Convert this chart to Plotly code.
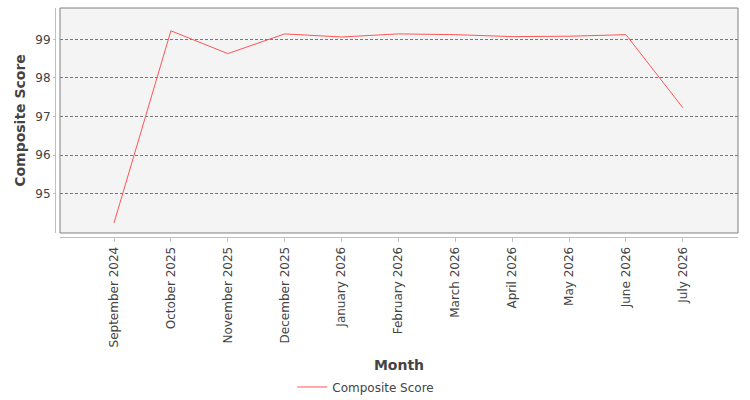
import plotly.graph_objects as go

months = ["September 2024", "October 2025", "November 2025", "December 2025",
          "January 2026", "February 2026", "March 2026", "April 2026",
          "May 2026", "June 2026", "July 2026"]
composite_score = [94.25, 99.22, 98.63, 99.14, 99.06, 99.14, 99.12, 99.07, 99.08, 99.12, 97.23]
y_ticks = [95, 96, 97, 98, 99]

FONT = "DejaVu Sans"

fig = go.Figure()
fig.add_trace(go.Scatter(
    x=months, y=composite_score, mode="lines", name="Composite Score",
    line=dict(color="#ff5555", width=1),
))

fig.update_layout(
    width=750, height=400,
    margin=dict(l=55, r=12, t=8, b=163, autoexpand=False),
    paper_bgcolor="white",
    plot_bgcolor="#f4f4f4",
    font=dict(family=FONT, size=12, color="#555555"),
    showlegend=True,
    legend=dict(orientation="h", x=0.455, xanchor="center", y=-0.655, yanchor="middle",
                font=dict(family=FONT, size=12, color="#444444")),
    xaxis=dict(
        type="category", domain=[0.0073, 1], anchor="free", position=0,
        range=[-0.95, 10.97], automargin=False,
        showgrid=False, zeroline=False,
        showline=True, linecolor="#c0c0c0", linewidth=1,
        ticks="outside", ticklen=4, tickcolor="#c0c0c0",
        tickangle=-90, tickfont=dict(family=FONT, size=12, color="#444444"),
        title=dict(text="<b>Month</b>", font=dict(family=FONT, size=14, color="#444444"), standoff=13),
    ),
    yaxis=dict(
        domain=[0.0175, 1], anchor="free", position=0,
        range=[93.99, 99.81], tickvals=y_ticks, automargin=False,
        showgrid=True, gridcolor="#777777", gridwidth=0.6, griddash="3px,2px",
        zeroline=False,
        showline=True, linecolor="#c0c0c0", linewidth=1,
        ticks="outside", ticklen=2, tickcolor="#c0c0c0",
        tickfont=dict(family=FONT, size=12, color="#444444"),
        title=dict(text="<b>Composite Score</b>", font=dict(family=FONT, size=14, color="#444444"), standoff=5),
    ),
    shapes=[dict(type="rect", xref="x domain", yref="y domain", x0=0, x1=1, y0=0, y1=1,
                 line=dict(color="#808080", width=1), fillcolor="rgba(0,0,0,0)", layer="above")],
)

fig.write_html("out.html")
